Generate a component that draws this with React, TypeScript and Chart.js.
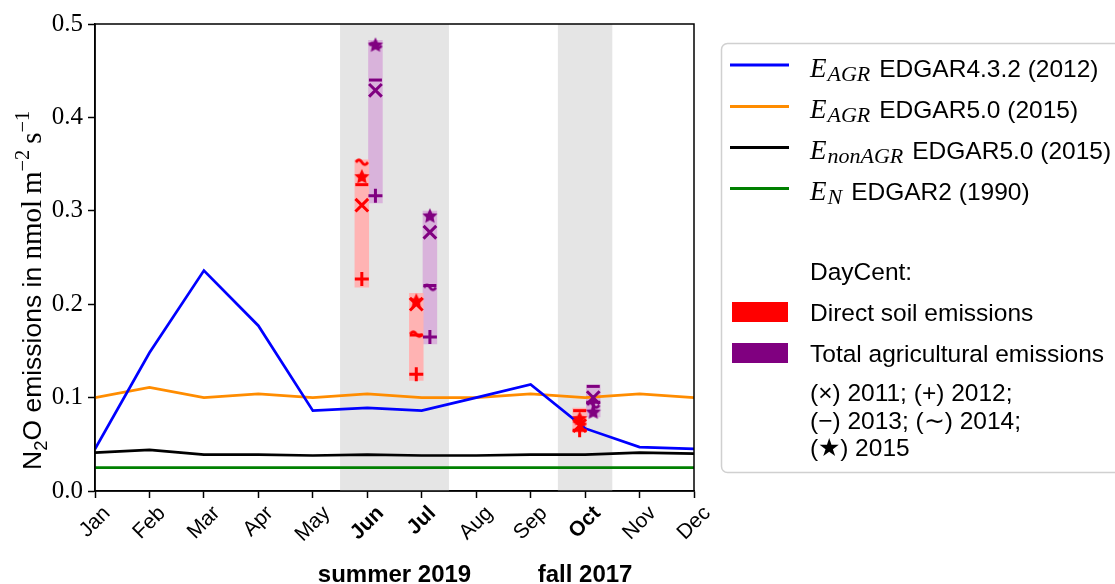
import React, { useEffect, useRef } from "react";
import { Chart, registerables } from "chart.js";

Chart.register(...registerables);

// ---------- data ----------
const months = ["Jan", "Feb", "Mar", "Apr", "May", "Jun", "Jul", "Aug", "Sep", "Oct", "Nov", "Dec"];
const boldMonths = ["Jun", "Jul", "Oct"];
const yTicks = [0.0, 0.1, 0.2, 0.3, 0.4, 0.5];

const agrEdgar432 = [0.045, 0.148, 0.236, 0.177, 0.086, 0.089, 0.086, 0.100, 0.114, 0.067, 0.047, 0.045];
const agrEdgar50 = [0.100, 0.111, 0.100, 0.104, 0.100, 0.104, 0.100, 0.100, 0.104, 0.100, 0.104, 0.100];
const nonAgrEdgar50 = [0.041, 0.044, 0.039, 0.039, 0.038, 0.039, 0.038, 0.038, 0.039, 0.039, 0.041, 0.040];
const natEdgar2 = [0.025, 0.025, 0.025, 0.025, 0.025, 0.025, 0.025, 0.025, 0.025, 0.025, 0.025, 0.025];

// DayCent months: Jun, Jul, Oct (month indices)
const dayCentMonths = [5, 6, 9];

const direct2011 = [0.306, 0.200, 0.070];
const direct2012 = [0.227, 0.125, 0.065];
const direct2013 = [0.328, 0.167, 0.086];
const direct2014 = [0.352, 0.168, 0.073];
const direct2015 = [0.337, 0.204, 0.078];
const directLow = [0.218, 0.118, 0.062];
const directHigh = [0.355, 0.212, 0.089];

const total2011 = [0.429, 0.277, 0.100];
const total2012 = [0.316, 0.165, 0.095];
const total2013 = [0.440, 0.220, 0.112];
const total2014 = [0.477, 0.218, 0.092];
const total2015 = [0.478, 0.295, 0.085];
const totalLow = [0.308, 0.157, 0.079];
const totalHigh = [0.483, 0.300, 0.114];

const bandStart = [4.5, 8.5];
const bandEnd = [6.5, 9.5];
const bandLabels = ["summer 2019", "fall 2017"];

const lineLegend = [
  { sub: "AGR", text: "EDGAR4.3.2 (2012)", color: "#0000ff" },
  { sub: "AGR", text: "EDGAR5.0 (2015)", color: "#ff8c00" },
  { sub: "nonAGR", text: "EDGAR5.0 (2015)", color: "#000000" },
  { sub: "N", text: "EDGAR2 (1990)", color: "#008000" },
];
const yearNotes = ["(\u00d7) 2011; (+) 2012;", "(\u2212) 2013; (\u223c) 2014;", "(\u2605) 2015"];

// ---------- styling constants ----------
const RED = "#ff0000";
const PURPLE = "#800080";
const RED_BAR = "#ffb3b3";
const PURPLE_BAR = "#d9b3db";
const DIRECT_OFFSET = -0.1;
const TOTAL_OFFSET = 0.15;
const SANS = "'Liberation Sans', Arial, sans-serif";
const SERIF = "'Liberation Serif', 'Times New Roman', serif";

function starCanvas(color: string, r: number) {
  const c = document.createElement("canvas");
  const s = Math.ceil(r * 2 + 2);
  c.width = s;
  c.height = s;
  const g = c.getContext("2d")!;
  g.fillStyle = color;
  g.beginPath();
  for (let k = 0; k < 10; k++) {
    const a = -Math.PI / 2 + (k * Math.PI) / 5;
    const rad = k % 2 === 0 ? r : r * 0.48;
    const px = s / 2 + rad * Math.cos(a);
    const py = s / 2 + 0.8 + rad * Math.sin(a);
    if (k === 0) g.moveTo(px, py);
    else g.lineTo(px, py);
  }
  g.closePath();
  g.fill();
  return c;
}

function tildeCanvas(color: string) {
  const c = document.createElement("canvas");
  c.width = 16;
  c.height = 10;
  const g = c.getContext("2d")!;
  g.strokeStyle = color;
  g.lineWidth = 2.8;
  g.beginPath();
  for (let i = 0; i <= 24; i++) {
    const t = i / 24;
    const px = 2 + 12 * t;
    const py = 5 - 2.3 * Math.sin(2 * Math.PI * t);
    if (i === 0) g.moveTo(px, py);
    else g.lineTo(px, py);
  }
  g.stroke();
  return c;
}

function monthSeries(vals: number[]) {
  return vals.map((v, i) => ({ x: i, y: v }));
}
function dcSeries(vals: number[], offset: number) {
  return vals.map((v, i) => ({ x: dayCentMonths[i] + offset, y: v }));
}
function rangeSeries(low: number[], high: number[], offset: number) {
  const out: any[] = [];
  low.forEach((l, i) => {
    const x = dayCentMonths[i] + offset;
    out.push({ x, y: l }, { x, y: high[i] }, { x, y: null });
  });
  return out;
}

const bandsPlugin = {
  id: "bands",
  beforeDatasetsDraw(chart: any) {
    const { ctx, chartArea, scales } = chart;
    const x = scales.x;
    ctx.save();
    ctx.fillStyle = "#e5e5e5";
    for (let i = 0; i < bandStart.length; i++) {
      const x0 = x.getPixelForValue(bandStart[i]);
      const x1 = x.getPixelForValue(bandEnd[i]);
      ctx.fillRect(x0, chartArea.top, x1 - x0, chartArea.bottom - chartArea.top);
    }
    ctx.restore();
  },
  afterDraw(chart: any) {
    const { ctx, chartArea, scales } = chart;
    const x = scales.x;
    ctx.save();
    // frame
    ctx.strokeStyle = "#000";
    ctx.lineWidth = 1.5;
    ctx.strokeRect(chartArea.left, chartArea.top, chartArea.right - chartArea.left, chartArea.bottom - chartArea.top);

    // x tick labels, rotated 45 degrees and centred on their ticks
    ctx.fillStyle = "#000";
    const size = 21;
    x.ticks.forEach((t: any) => {
      const label = months[t.value];
      if (!label) return;
      const bold = boldMonths.includes(label);
      ctx.font = `${bold ? "bold " : ""}${size}px ${SANS}`;
      const L = ctx.measureText(label).width;
      const h = size * 0.95;
      const px = x.getPixelForValue(t.value);
      const topY = chartArea.bottom + 12;
      ctx.save();
      ctx.translate(px, topY + (L + h) * 0.3536);
      ctx.rotate(-Math.PI / 4);
      ctx.textAlign = "center";
      ctx.textBaseline = "middle";
      ctx.fillText(label, 0, 0);
      ctx.restore();
    });

    // band labels
    ctx.font = `bold 24px ${SANS}`;
    ctx.textAlign = "center";
    ctx.textBaseline = "alphabetic";
    for (let i = 0; i < bandLabels.length; i++) {
      const cx = (x.getPixelForValue(bandStart[i]) + x.getPixelForValue(bandEnd[i])) / 2;
      ctx.fillText(bandLabels[i], cx, 582);
    }
    ctx.restore();
  },
};

const yTitlePlugin = {
  id: "ytitle",
  afterDraw(chart: any) {
    const { ctx } = chart;
    const pieces = [
      { t: "N", f: `26.5px ${SANS}`, dy: 0 },
      { t: "2", f: `18.5px ${SANS}`, dy: 5.5 },
      { t: "O emissions in ", f: `26.5px ${SANS}`, dy: 0 },
      { t: "nmol", f: `29px ${SERIF}`, dy: 0 },
      { t: "\u2009m", f: `29px ${SERIF}`, dy: 0 },
      { t: "\u22122", f: `20.5px ${SERIF}`, dy: -12 },
      { t: "\u2009s", f: `29px ${SERIF}`, dy: 0 },
      { t: "\u22121", f: `20.5px ${SERIF}`, dy: -12 },
    ];
    ctx.save();
    let total = 0;
    const widths = pieces.map((p) => {
      ctx.font = p.f;
      const w = ctx.measureText(p.t).width;
      total += w;
      return w;
    });
    const startY = 470;
    const cy = startY - total / 2;
    ctx.translate(41, cy + total / 2);
    ctx.rotate(-Math.PI / 2);
    ctx.fillStyle = "#000";
    ctx.textBaseline = "alphabetic";
    ctx.textAlign = "left";
    let pos = 0;
    pieces.forEach((p, i) => {
      ctx.font = p.f;
      ctx.fillText(p.t, pos, p.dy);
      pos += widths[i];
    });
    ctx.restore();
  },
};

const legendPlugin = {
  id: "customLegend",
  afterDraw(chart: any) {
    const { ctx } = chart;
    ctx.save();
    // box
    const bx = 721.5, by = 43.5, bw = 420, bh = 429, r = 6;
    ctx.beginPath();
    ctx.moveTo(bx + r, by);
    ctx.lineTo(bx + bw - r, by);
    ctx.arcTo(bx + bw, by, bx + bw, by + r, r);
    ctx.lineTo(bx + bw, by + bh - r);
    ctx.arcTo(bx + bw, by + bh, bx + bw - r, by + bh, r);
    ctx.lineTo(bx + r, by + bh);
    ctx.arcTo(bx, by + bh, bx, by + bh - r, r);
    ctx.lineTo(bx, by + r);
    ctx.arcTo(bx, by, bx + r, by, r);
    ctx.closePath();
    ctx.fillStyle = "rgba(255,255,255,0.8)";
    ctx.fill();
    ctx.strokeStyle = "#d0d0d0";
    ctx.lineWidth = 1.5;
    ctx.stroke();

    const textX = 810;
    const rows = [65, 106.5, 147.5, 188.5];
    ctx.textBaseline = "alphabetic";
    ctx.textAlign = "left";
    lineLegend.forEach((item, i) => {
      const y = rows[i];
      ctx.strokeStyle = item.color;
      ctx.lineWidth = 3;
      ctx.beginPath();
      ctx.moveTo(730, y);
      ctx.lineTo(789, y);
      ctx.stroke();
      ctx.fillStyle = "#000";
      const base = y + 11.5;
      ctx.font = `italic 27px ${SERIF}`;
      ctx.fillText("E", textX, base);
      let px = textX + ctx.measureText("E").width + 1;
      ctx.font = `italic 22px ${SERIF}`;
      ctx.fillText(item.sub, px, base + 4);
      px += ctx.measureText(item.sub).width + 9;
      ctx.font = `24.5px ${SANS}`;
      ctx.fillText(item.text, px, base);
    });

    ctx.fillStyle = "#000";
    ctx.font = `24.5px ${SANS}`;
    ctx.fillText("DayCent:", textX, 280);

    ctx.fillStyle = RED;
    ctx.fillRect(732, 302, 56, 20);
    ctx.fillStyle = PURPLE;
    ctx.fillRect(732, 343, 56, 20);
    ctx.fillStyle = "#000";
    ctx.fillText("Direct soil emissions", textX, 321);
    ctx.fillText("Total agricultural emissions", textX, 362);
    const noteBase = [401, 428.5, 456];
    yearNotes.forEach((t, i) => ctx.fillText(t, textX, noteBase[i]));
    ctx.restore();
  },
};

export default function App() {
  const ref = useRef<HTMLCanvasElement | null>(null);

  useEffect(() => {
    if (!ref.current) return;
    document.body.style.margin = "0";
    const redStar = starCanvas(RED, 8);
    const purpleStar = starCanvas(PURPLE, 8);
    const redTilde = tildeCanvas(RED);
    const purpleTilde = tildeCanvas(PURPLE);

    const marker = (data: any[], color: string, style: any, radius: number, bw = 3) => ({
      data,
      showLine: false,
      pointStyle: style,
      pointRadius: radius,
      pointHoverRadius: radius,
      pointBorderColor: color,
      pointBackgroundColor: color,
      pointBorderWidth: bw,
      order: 0,
    });
    const line = (vals: number[], color: string) => ({
      data: monthSeries(vals),
      showLine: true,
      borderColor: color,
      borderWidth: 2.7,
      pointRadius: 0,
      tension: 0,
      order: 1,
    });
    const range = (low: number[], high: number[], offset: number, color: string) => ({
      data: rangeSeries(low, high, offset),
      showLine: true,
      spanGaps: false,
      borderColor: color,
      borderWidth: 14.5,
      borderCapStyle: "butt",
      pointRadius: 0,
      order: 2,
    });

    const chart = new Chart(ref.current, {
      type: "scatter",
      data: {
        datasets: [
          marker(dcSeries(direct2011, DIRECT_OFFSET), RED, "crossRot", 9),
          marker(dcSeries(direct2012, DIRECT_OFFSET), RED, "cross", 7),
          marker(dcSeries(direct2013, DIRECT_OFFSET), RED, "line", 6.5),
          marker(dcSeries(direct2014, DIRECT_OFFSET), RED, redTilde, 6),
          marker(dcSeries(direct2015, DIRECT_OFFSET), RED, redStar, 7),
          marker(dcSeries(total2011, TOTAL_OFFSET), PURPLE, "crossRot", 9),
          marker(dcSeries(total2012, TOTAL_OFFSET), PURPLE, "cross", 7),
          marker(dcSeries(total2013, TOTAL_OFFSET), PURPLE, "line", 6.5),
          marker(dcSeries(total2014, TOTAL_OFFSET), PURPLE, purpleTilde, 6),
          marker(dcSeries(total2015, TOTAL_OFFSET), PURPLE, purpleStar, 7),
          line(agrEdgar432, "#0000ff"),
          line(agrEdgar50, "#ff8c00"),
          line(nonAgrEdgar50, "#000000"),
          line(natEdgar2, "#008000"),
          range(directLow, directHigh, DIRECT_OFFSET, RED_BAR),
          range(totalLow, totalHigh, TOTAL_OFFSET, PURPLE_BAR),
        ] as any,
      },
      options: {
        animation: false,
        responsive: false,
        devicePixelRatio: 1,
        layout: { padding: { left: 0, right: 421, top: 24, bottom: 0 } },
        plugins: { legend: { display: false }, tooltip: { enabled: false } },
        scales: {
          x: {
            type: "linear",
            min: 0,
            max: 11,
            afterFit(scale: any) {
              scale.height = 93;
            },
            afterBuildTicks(scale: any) {
              scale.ticks = months.map((_, i) => ({ value: i }));
            },
            grid: { drawOnChartArea: false, tickLength: 7, tickColor: "#000", tickWidth: 1.5 },
            border: { display: true, color: "#000", width: 1.5 },
            ticks: {
              display: false,
              autoSkip: false,
              callback: (v: any) => months[v] ?? "",
            },
          },
          y: {
            type: "linear",
            min: 0,
            max: 0.5,
            afterFit(scale: any) {
              scale.width = 95;
            },
            afterBuildTicks(scale: any) {
              scale.ticks = yTicks.map((v) => ({ value: v }));
            },
            grid: { drawOnChartArea: false, tickLength: 7, tickColor: "#000", tickWidth: 1.5 },
            border: { display: true, color: "#000", width: 1.5 },
            ticks: {
              padding: 5,
              color: "#000",
              font: { family: SERIF, size: 25 },
              callback: (v: any) => Number(v).toFixed(1),
            },
          },
        },
      } as any,
      plugins: [bandsPlugin, yTitlePlugin, legendPlugin],
    });
    return () => chart.destroy();
  }, []);

  return (
    <div style={{ position: "absolute", left: 0, top: 0, width: 1115, height: 584 }}>
      <canvas ref={ref} width={1115} height={584} style={{ width: 1115, height: 584, display: "block" }} />
    </div>
  );
}
